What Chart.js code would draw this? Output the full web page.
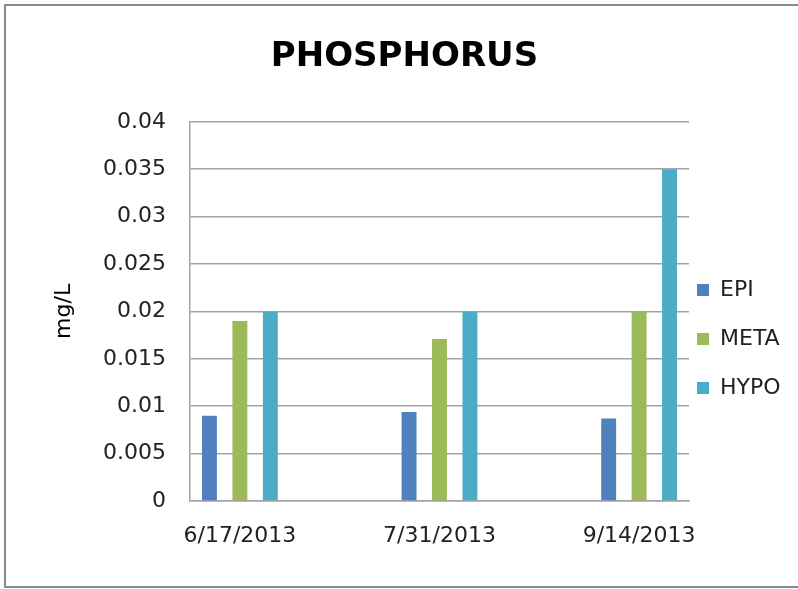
<!DOCTYPE html>
<html>
<head>
<meta charset="utf-8">
<script src="https://cdn.jsdelivr.net/npm/chart.js@4/dist/chart.umd.min.js"></script>
<style>
  html, body { margin: 0; padding: 0; background: #fff; overflow: hidden; }
  #wrap { position: relative; width: 798px; height: 589px; }
  #frame { position: absolute; left: 4px; top: 4px; width: 820px; height: 580px;
           border: 2px solid #8a8a8a; pointer-events: none; }
</style>
</head>
<body>
<div id="wrap">
  <canvas id="chart" width="798" height="589"></canvas>
  <div id="frame"></div>
</div>
<script>
const dates = ["6/17/2013", "7/31/2013", "9/14/2013"];
const epi  = [0.0090, 0.0094, 0.0087];
const meta = [0.0190, 0.0171, 0.0200];
const hypo = [0.0200, 0.0200, 0.0350];
const yTicks = [0, 0.005, 0.01, 0.015, 0.02, 0.025, 0.03, 0.035, 0.04];

const FONT = "'DejaVu Sans', sans-serif";
const gridGray = "#a3a3a3";

function points(values) {
  return values.map((v, i) => ({ x: i, y: v }));
}

// move the legend next to the plot like in the excel chart
const legendSpot = {
  id: 'legendSpot',
  afterLayout(chart) {
    const lg = chart.legend;
    lg.left = 697 - 27;
    lg.width = 128;
    lg.right = lg.left + lg.width;
    lg.top = 252;
    lg.height = 200;
    lg.bottom = lg.top + lg.height;
  }
};

new Chart(document.getElementById('chart'), {
  type: 'bar',
  data: {
    datasets: [
      { label: 'EPI',  data: points(epi),  backgroundColor: '#4F81BD' },
      { label: 'META', data: points(meta), backgroundColor: '#9BBB59' },
      { label: 'HYPO', data: points(hypo), backgroundColor: '#4BACC6' }
    ]
  },
  options: {
    responsive: false,
    animation: false,
    categoryPercentage: 0.4575,
    barPercentage: 0.49,
    layout: { padding: { left: 20, right: 9, top: 10, bottom: 0 } },
    plugins: {
      title: {
        display: true,
        text: 'PHOSPHORUS',
        color: '#000',
        font: { family: FONT, size: 34, weight: 'bold' },
        padding: { top: 27, bottom: 44 }
      },
      legend: {
        position: 'right',
        align: 'start',
        maxWidth: 100,
        labels: {
          color: '#222',
          font: { family: FONT, size: 22 },
          boxWidth: 12,
          boxHeight: 12,
          padding: 27
        }
      },
      tooltip: { enabled: false }
    },
    scales: {
      x: {
        type: 'linear',
        offset: false,
        min: -0.25,
        max: 2.25,
        afterBuildTicks: s => { s.ticks = dates.map((d, i) => ({ value: i })); },
        afterFit: s => { s.height = 88; },
        grid: { display: false, drawTicks: false },
        border: { display: true, color: gridGray, width: 1.5 },
        ticks: {
          color: '#222',
          padding: 22,
          autoSkip: false,
          maxRotation: 0,
          font: { family: FONT, size: 22 },
          callback: v => dates[v] ?? ''
        }
      },
      y: {
        min: 0,
        max: 0.04,
        afterBuildTicks: s => { s.ticks = yTicks.map(v => ({ value: v })); },
        afterFit: s => { s.width = 170; },
        grid: { color: gridGray, lineWidth: 1.5, drawTicks: false },
        border: { display: true, color: gridGray, width: 1.5 },
        ticks: {
          color: '#222',
          padding: 24,
          font: { family: FONT, size: 22 },
          callback: v => String(+v.toFixed(3))
        },
        title: {
          display: true,
          text: 'mg/L',
          color: '#000',
          font: { family: FONT, size: 22 },
          padding: { top: 31, bottom: 0 }
        }
      }
    }
  },
  plugins: [legendSpot]
});
</script>
</body>
</html>
